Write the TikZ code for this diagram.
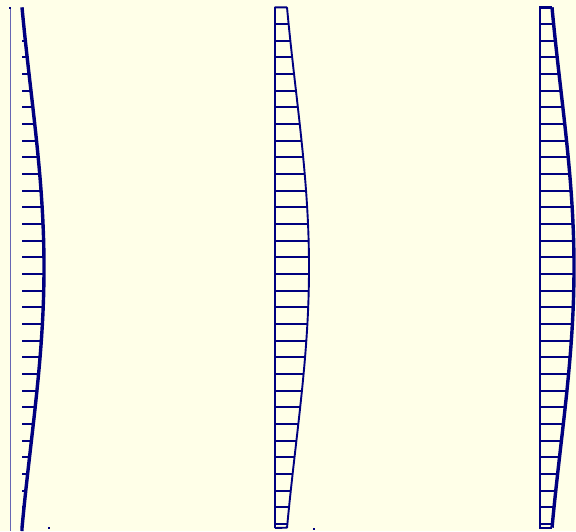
\documentclass[tikz,border=0pt]{standalone}
\usepackage{tikz}
\definecolor{paper}{HTML}{FFFFE8}
\definecolor{ink}{HTML}{000080}
\tikzset{
  declare function={shp(\t)=sin(180*\t)*(0.7+0.3*sin(180*\t));},
  thickcurve/.style={ink,line width=3.4pt},
  thincurve/.style={ink,line width=1.9pt},
  hatch/.style={ink,line width=1.9pt},
  axisline/.style={ink,line width=1.4pt}
}

\begin{document}
\begin{tikzpicture}[x=1pt,y=-1pt]
    \fill[paper] (0,0) rectangle (576,531);
    \useasboundingbox (0,0) rectangle (576,531);
    % left profile
    \draw[ink!60,line width=1pt] (10,7) -- (10,531);
    \fill[ink] (9,7) rectangle (11,9);
    \foreach \k in {1,...,31} {
      \pgfmathsetmacro{\yy}{7.3+16.67*\k}
      \pgfmathsetmacro{\xx}{22+22*shp(16.67*\k/520.7)}
      \draw[hatch] (22,\yy) -- (\xx,\yy);
    }
    \draw[thickcurve] plot[domain=0:1,samples=80,smooth] ({22+22*shp(\x)},{7.3+520.7*\x}) -- (22,531);
    \fill[ink] (48,527) rectangle (50,529);
    % middle profile
    \foreach \k in {1,...,31} {
      \pgfmathsetmacro{\yy}{7.3+16.67*\k}
      \pgfmathsetmacro{\xx}{287+22*shp(16.67*\k/520.7)}
      \draw[hatch] (275,\yy) -- (\xx,\yy);
    }
    \draw[thincurve,line join=round] (275,528) -- (275,7.3) -- (287,7.3)
      plot[domain=0:1,samples=80,smooth] ({287+22*shp(\x)},{7.3+520.7*\x}) -- (275,528);
    \fill[ink] (313,528) rectangle (315,530);
    % right profile
    \draw[axisline] (540,7.3) -- (540,528);
    \foreach \k in {1,...,31} {
      \pgfmathsetmacro{\yy}{7.3+16.67*\k}
      \pgfmathsetmacro{\xx}{552+22*shp(16.67*\k/520.7)}
      \draw[hatch] (540,\yy) -- (\xx,\yy);
    }
    \draw[ink,line width=2.6pt] (539,7.3) -- (552,7.3);
    \draw[ink,line width=2.6pt] (539,528) -- (552,528);
    \draw[thickcurve] plot[domain=0:1,samples=80,smooth] ({552+22*shp(\x)},{7.3+520.7*\x});
\end{tikzpicture}
\end{document}
